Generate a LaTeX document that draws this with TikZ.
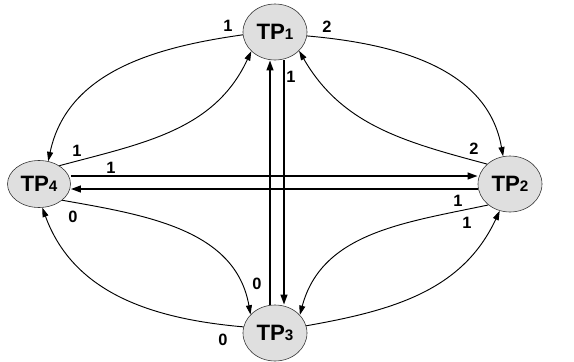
\documentclass[tikz,border=0pt]{standalone}
\usepackage{fontspec}
\setmainfont{Liberation Sans}
\usetikzlibrary{arrows.meta,shapes.geometric}
\newcommand{\tpsub}[1]{{\fontsize{13}{13}\selectfont #1}}
\begin{document}
\begin{tikzpicture}[x=0.03cm,y=-0.03cm,
  tp/.style={ellipse,draw=black!80,line width=0.5pt,fill=gray!25,inner sep=0pt,
    minimum width=1.92cm,minimum height=1.68cm,font=\fontsize{19}{19}\selectfont\bfseries},
  lbl/.style={font=\fontsize{14}{14}\selectfont\bfseries,inner sep=0pt},
  arcline/.style={line width=0.8pt,-{Triangle[length=0.28cm,width=0.18cm]}},
  link/.style={line width=1.6pt,-{Triangle[length=0.3cm,width=0.2cm]}}]
\useasboundingbox (0,0) rectangle (574,362);
% nodes
\node[tp] (tp1) at (275,32) {TP\tpsub{1}};
\node[tp] (tp2) at (510,184) {TP\tpsub{2}};
\node[tp] (tp3) at (275,333) {TP\tpsub{3}};
\node[tp,minimum width=1.89cm,minimum height=1.41cm] (tp4) at (39,184) {TP\tpsub{4}};
% straight links
\draw[link] ([xshift=-0.15cm]tp3.north) -- ([xshift=-0.15cm]tp1.south);
\draw[link] ([xshift=0.27cm]tp1.south) -- ([xshift=0.27cm]tp3.north);
\draw[link] ([yshift=0.24cm]tp4.east) -- ([yshift=0.24cm]tp2.west);
\draw[link] ([yshift=-0.15cm]tp2.west) -- ([yshift=-0.15cm]tp4.east);
% curved links
\draw[arcline] (tp1.185) to[out=188,in=78] (tp4.68);
\draw[arcline] (tp4.42) to[out=15,in=245] (tp1.219);
\draw[arcline] (tp1.353) to[out=-5,in=100] (tp2.104);
\draw[arcline] (tp2.139) to[out=165,in=300] (tp1.322);
\draw[arcline] (tp4.325) to[out=-10,in=100] (tp3.143);
\draw[arcline] (tp3.169) to[out=175,in=-70] (tp4.278);
\draw[arcline] (tp2.224) to[out=192,in=75] (tp3.36);
\draw[arcline] (tp3.13) to[out=10,in=-115] (tp2.249);
% weights
\node[lbl] (w14) at (228,26) {1};
\node[lbl] (w12) at (327,27) {2};
\node[lbl] (w13) at (291,77) {1};
\node[lbl] (w41) at (77,151) {1};
\node[lbl] (w42) at (111,168) {1};
\node[lbl] (w43) at (73,217) {0};
\node[lbl] (w21) at (474,149) {2};
\node[lbl] (w24) at (458,201) {1};
\node[lbl] (w23) at (467,223) {1};
\node[lbl] (w31) at (257,284) {0};
\node[lbl] (w34) at (223,340) {0};
\end{tikzpicture}
\end{document}
